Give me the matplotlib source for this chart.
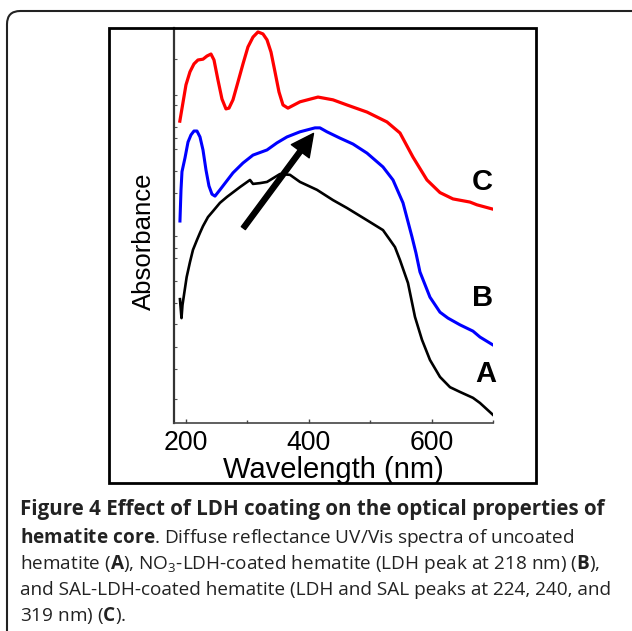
import matplotlib.pyplot as plt
from matplotlib.patches import Rectangle, FancyBboxPatch
from matplotlib.ticker import MultipleLocator

# spectra: wavelength (nm), absorbance (arb. units, 0-100)
wl_a = [190.2, 192.7, 194.3, 201.1, 206.5, 211.4, 217.9, 222.8, 227.7, 235.8,
        244, 255.3, 266.7, 287.9, 304.2, 309.1, 320.5, 331.9, 353, 369.3,
        385.6, 413.2, 439.3, 462.1, 494.7, 520.7, 532.1, 540.2, 548.4, 561.4,
        572.8, 584.2, 597.2, 613.5, 629.8, 646, 667.2, 678.6, 699.7]
abs_a = [31.3, 26.5, 29.8, 36.9, 40.7, 43.8, 46.3, 48.1, 49.8, 52.1,
         53.6, 55.7, 57.2, 59.7, 61.5, 60.5, 60.7, 61.0, 63.0, 62.8,
         61.0, 59.0, 56.4, 54.4, 51.3, 48.8, 46.3, 44.5, 41.2, 35.4,
         26.8, 21.0, 15.9, 11.6, 9.0, 7.8, 6.3, 5.0, 2.0]

wl_b = [190.2, 191.9, 193.5, 198.4, 203.3, 208.1, 213, 217.9, 222.8, 227.7,
        232.6, 237.4, 242.3, 247.2, 255.3, 276.5, 292.8, 309.1, 331.9, 348.1,
        364.4, 385.6, 410, 418.1, 429.5, 450.7, 471.9, 494.7, 520.7, 537,
        553.3, 567.9, 574.4, 580.9, 597.2, 613.5, 626.5, 646, 667.2, 678.6,
        699.7]
abs_b = [51.1, 59.0, 63.6, 67.1, 71.1, 72.9, 73.9, 73.9, 72.4, 69.1,
         64.0, 60.0, 57.9, 57.4, 59.0, 63.3, 65.8, 67.8, 69.1, 70.9,
         72.4, 73.7, 74.7, 74.7, 73.7, 72.1, 70.6, 68.3, 64.8, 61.5,
         55.7, 47.1, 43.0, 38.2, 31.8, 28.0, 26.5, 24.8, 23.2, 21.7,
         19.7]

wl_c = [190, 195, 200, 206.5, 213, 219.5, 227.7, 234.2, 240.7, 245.6,
        252.1, 258.6, 265.1, 270, 276.5, 284.6, 292.8, 300.9, 309.1, 317.2,
        325.3, 331.9, 338.4, 344.9, 351.4, 357.9, 366, 385.6, 414.9, 439.3,
        462.1, 494.7, 527.2, 548.4, 569.5, 592.3, 613.5, 634.6, 662.3, 673.7,
        699.7]
abs_c = [76.4, 81.0, 85.6, 88.9, 90.9, 91.9, 92.1, 92.9, 93.4, 91.9,
         86.8, 82.0, 79.5, 79.7, 81.8, 86.3, 90.9, 95.2, 97.7, 99.0,
         98.5, 97.0, 93.9, 88.9, 83.8, 80.5, 79.7, 81.3, 82.5, 81.8,
         80.5, 78.7, 76.2, 73.4, 67.3, 61.5, 58.3, 56.7, 55.9, 55.2,
         54.1]

curve_names = ['A', 'B', 'C']
name_x = [687.5, 682.6, 682.1]
name_y = [10.4, 29.6, 59.0]

arrow_from = (293.4, 49.3)
arrow_to = (407.6, 73.3)

xticks_major = [200, 400, 600]
yticks_au = [92.1, 83.0, 80.5, 74.9, 72.1, 69.3, 63.8, 58.3, 47.3, 44.3,
             41.7, 35.9, 30.3, 24.9, 19.1, 13.6, 6.0]

caption = [
    'Figure 4 Effect of LDH coating on the optical properties of',
    r'$\mathbf{hematite\ core}$. Diffuse reflectance UV/Vis spectra of uncoated',
    r'hematite ($\mathbf{A}$), NO$_3$-LDH-coated hematite (LDH peak at 218 nm) ($\mathbf{B}$),',
    'and SAL-LDH-coated hematite (LDH and SAL peaks at 224, 240, and',
    r'319 nm) ($\mathbf{C}$).',
]
caption_base_px = [515, 542.7, 569.3, 595, 621]

plt.rcParams['font.family'] = ['Liberation Sans', 'DejaVu Sans']
plt.rcParams['mathtext.fontset'] = 'custom'
plt.rcParams['mathtext.rm'] = 'Open Sans'
plt.rcParams['mathtext.bf'] = 'Open Sans:bold'
plt.rcParams['mathtext.it'] = 'Open Sans:italic'

W, H = 632, 631
fig = plt.figure(figsize=(W / 100, H / 100), dpi=100)

# outer rounded frame (runs off the right and bottom edges)
fig.patches.append(FancyBboxPatch((7 / W, -0.1), 2.0, 1 - 11 / H + 0.1,
                                  boxstyle='round,pad=0,rounding_size=0.021',
                                  transform=fig.transFigure, fill=False,
                                  edgecolor='#222222', linewidth=1.5))
# frame round the plot
fig.patches.append(Rectangle((109 / W, 1 - 483 / H), 427 / W, 455 / H,
                             transform=fig.transFigure, fill=False,
                             edgecolor='black', linewidth=2))

ax = fig.add_axes([174 / W, 1 - 422.7 / H, 319.3 / W, 394.7 / H])
ax.patch.set_alpha(0)

ax.plot(wl_a, abs_a, color='black', lw=1.9, solid_joinstyle='round')
ax.plot(wl_b, abs_b, color='#0000ff', lw=2.2, solid_joinstyle='round')
ax.plot(wl_c, abs_c, color='#ff0000', lw=2.3, solid_joinstyle='round')

for name, x, y in zip(curve_names, name_x, name_y):
    ax.text(x, y, name, ha='center', va='baseline', fontsize=21,
            fontweight='bold')

ax.annotate('', xy=arrow_to, xytext=arrow_from,
            arrowprops=dict(facecolor='black', edgecolor='black', width=3.6,
                            headwidth=16, headlength=16, shrink=0))

ax.set_xlim(180.5, 700.3)
ax.set_ylim(0, 100)
ax.set_xticks(xticks_major)
ax.xaxis.set_minor_locator(MultipleLocator(100))
ax.set_yticks(yticks_au)
ax.tick_params(axis='x', which='major', direction='in', length=3, width=1,
               color='#444444', pad=5.0, labelsize=19.2)
ax.tick_params(axis='x', which='minor', direction='in', length=2, width=1,
               color='#444444')
ax.tick_params(axis='y', direction='in', length=2, width=0.8,
               color='#555555', labelleft=False)

for side in ['top', 'right']:
    ax.spines[side].set_visible(False)
ax.spines['left'].set_color('#333333')
ax.spines['left'].set_linewidth(1.6)
ax.spines['bottom'].set_color('#444444')
ax.spines['bottom'].set_linewidth(1.2)

ax.set_xlabel('Wavelength (nm)', fontsize=21, labelpad=0.3)
ax.set_ylabel('Absorbance', fontsize=18.5, labelpad=13.2, y=0.459)

# caption below the plot
for i, (line, base) in enumerate(zip(caption, caption_base_px)):
    fig.text(20 / W, 1 - base / H, line, ha='left', va='baseline',
             fontsize=14.8 if i == 0 else 13.7, family='Open Sans',
             color='#222222', fontweight='bold' if i == 0 else 'normal')

fig.savefig('out.png', dpi=100)
